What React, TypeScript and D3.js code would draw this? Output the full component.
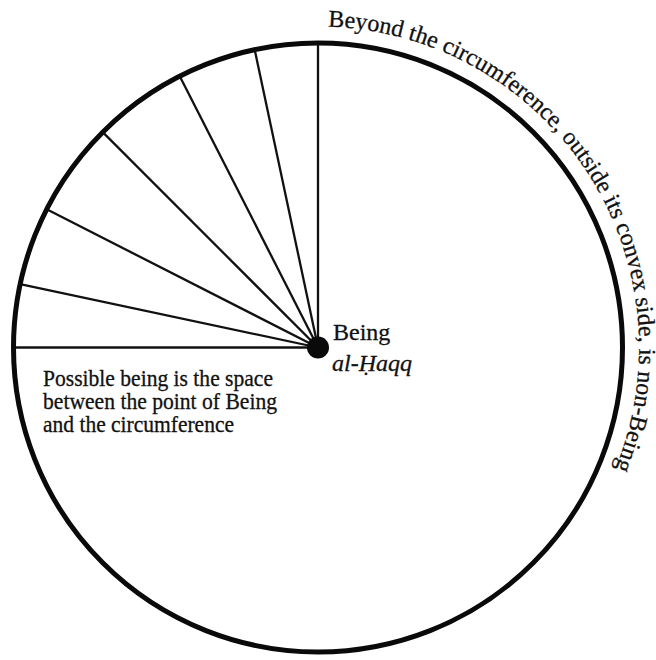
import React from "react";
import * as d3 from "d3";

// Rays drawn from the point of Being, in degrees counter-clockwise from 12 o'clock
const rayAngles = [0, 12, 27, 45, 63, 78, 90];
const centreLabels = ["Being", "al-\u1E24aqq"];
const noteLines = [
  "Possible being is the space",
  "between the point of Being",
  "and the circumference",
];
const noteWidths = [230, 234, 191];
const rimText = "Beyond the circumference, outside its convex side, is non-Being";

const W = 656;
const H = 660;
const cx = 318;
const cy = 347.5;
const R = 304.5;
const textR = 321;

export default function App() {
  const angle = d3.scaleLinear().domain([0, 360]).range([0, 2 * Math.PI]);
  const rays = rayAngles.map((a) => d3.pointRadial(-angle(a), R));
  const tr = textR;
  const rimPath = `M ${cx} ${cy - tr} A ${tr} ${tr} 0 1 1 ${cx} ${cy + tr} A ${tr} ${tr} 0 1 1 ${cx} ${cy - tr}`;
  const startOffset = tr * angle(1.8);
  const font = "'Liberation Serif', 'Times New Roman', serif";

  return (
    <svg
      width={W}
      height={H}
      style={{ position: "absolute", left: 0, top: 0, background: "#fff" }}
    >
      <defs>
        <path id="rim" d={rimPath} fill="none" />
      </defs>
      <g transform={`translate(${cx},${cy})`}>
        {rays.map(([x, y], i) => (
          <line key={i} x1={0} y1={0} x2={x} y2={y} stroke="#111" strokeWidth={2.3} />
        ))}
        <circle r={R} fill="none" stroke="#0a0a0a" strokeWidth={5} />
        <circle r={11} fill="#0a0a0a" />
      </g>
      <text x={333} y={340} fontFamily={font} fontSize={24} fill="#111" stroke="#111" strokeWidth={0.3}>
        {centreLabels[0]}
      </text>
      <text x={332} y={371} fontFamily={font} fontSize={24} fontStyle="italic" fill="#111" stroke="#111" strokeWidth={0.3}>
        {centreLabels[1]}
      </text>
      {noteLines.map((t, i) => (
        <text
          key={i}
          x={43}
          y={386 + i * 23}
          fontFamily={font}
          fontSize={22.5}
          fill="#111"
          stroke="#111"
          strokeWidth={0.3}
          textLength={noteWidths[i]}
          lengthAdjust="spacingAndGlyphs"
        >
          {t}
        </text>
      ))}
      <text fontFamily={font} fontSize={24} fill="#111" stroke="#111" strokeWidth={0.3}>
        <textPath href="#rim" startOffset={startOffset}>
          {rimText}
        </textPath>
      </text>
    </svg>
  );
}
